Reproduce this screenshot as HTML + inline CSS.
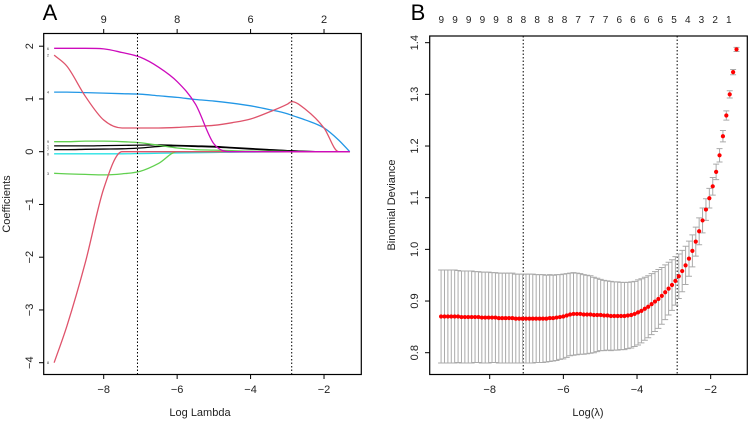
<!DOCTYPE html>
<html><head><meta charset="utf-8"><style>
body{margin:0;background:#fff}svg{display:block;font-family:"Liberation Sans",sans-serif}
</style></head><body>
<svg id="c" width="749" height="421"></svg>
<script>
// ---------- Panel A data ----------
const pathXs=[-9.35,-9,-8.5,-8,-7.5,-7,-6.5,-6,-5.5,-5,-4.5,-4,-3.5,-3,-2.88,-2.5,-2,-1.6,-1.3];
const magenta=[1.96,1.96,1.96,1.95,1.88,1.79,1.6,1.33,0.9,0.15,0,0,0,0,0,0,0,0,0];
const red2=[1.83,1.62,1.05,0.6,0.45,0.45,0.45,0.46,0.48,0.5,0.55,0.62,0.75,0.9,0.95,0.8,0.45,0,0];
const blue=[1.13,1.13,1.12,1.11,1.10,1.09,1.06,1.03,0.99,0.96,0.92,0.87,0.8,0.72,0.69,0.6,0.45,0.22,0];
const red8=[-4,-3.3,-2.1,-0.7,0,0,0,0,0,0,0,0,0,0,0,0,0,0,0];
const green9=[0.19,0.19,0.2,0.2,0.19,0.17,0.12,0.07,0.04,0.03,0.02,0.01,0.01,0.005,0,0,0,0,0];
const green3=[-0.41,-0.42,-0.43,-0.44,-0.42,-0.37,-0.22,0,0,0,0,0,0,0,0,0,0,0,0];
const black1=[0.11,0.11,0.11,0.115,0.12,0.125,0.13,0.12,0.11,0.1,0.08,0.06,0.04,0.02,0.015,0.005,0,0,0];
const black2=[0.04,0.04,0.045,0.05,0.055,0.07,0.1,0.11,0.1,0.09,0.07,0.05,0.035,0.02,0.015,0.005,0,0,0];
const cyan=[-0.04,-0.04,-0.04,-0.04,-0.04,-0.035,-0.03,-0.025,-0.02,-0.015,-0.01,-0.008,-0.005,-0.002,0,0,0,0,0];
const topA=["9","8","6","2"], topAx=[-8,-6,-4,-2];
// ---------- Panel B data ----------
const devMean=[0.870,0.870,0.870,0.870,0.870,0.870,0.869,0.869,0.869,0.869,0.869,0.869,0.868,0.868,0.868,0.868,0.868,0.867,0.867,0.867,0.867,0.867,0.866,0.866,0.866,0.866,
0.866,0.866,0.866,0.866,0.866,0.866,0.867,0.867,0.868,0.869,0.870,0.872,
0.874,0.875,0.875,0.875,0.874,0.874,0.874,0.873,0.873,0.873,0.872,
0.872,0.871,0.871,0.871,0.871,0.871,0.872,0.873,0.875,
0.878,0.881,0.885,0.889,0.894,0.899,0.904,0.910,0.917,0.924,0.931,0.939,
0.948,0.958,0.969,0.982,0.997,1.015,1.035,1.056,1.077,1.099,1.122,1.150,1.182,1.219,1.259,1.300,1.343,1.387];
const devSE=[0.090,0.090,0.090,0.090,0.090,0.089,0.089,0.089,0.089,0.089,0.088,0.088,0.088,0.088,0.088,0.087,0.087,0.087,0.087,0.087,0.087,0.087,0.086,0.086,0.086,0.086,
0.086,0.086,0.085,0.085,0.085,0.084,0.084,0.083,0.083,0.082,0.082,0.081,
0.080,0.080,0.079,0.078,0.077,0.076,0.075,0.073,0.071,0.069,0.068,
0.067,0.067,0.066,0.066,0.065,0.065,0.064,0.064,0.063,
0.063,0.062,0.061,0.060,0.059,0.058,0.057,0.055,0.053,0.051,0.049,0.047,
0.043,0.040,0.037,0.034,0.031,0.028,0.026,0.024,0.021,0.019,0.017,0.015,0.013,0.011,0.009,0.007,0.005,0.004];
const logLamStart=-9.32, logLamStep=0.0922;
const topB=["9","9","9","9","9","8","8","8","8","8","7","7","7","6","6","6","6","5","4","3","2","1"];
const cutsA=[-7.08,-2.88], cutsB=[-7.09,-2.91];

const NS="http://www.w3.org/2000/svg", svg=document.getElementById('c');
function mk(t,a,p){const e=document.createElementNS(NS,t);for(const k in a)e.setAttribute(k,a[k]);(p||svg).appendChild(e);return e;}
function txt(s,x,y,a,p){const e=mk('text',Object.assign({x:x,y:y,'font-size':11,fill:'#222','text-anchor':'middle'},a),p);e.textContent=s;return e;}

// Panel A scales
const axA=v=>103.7+(v+8)*36.72, ayA=v=>151.7-v*52.75;
const gA=mk('g',{});
let t=txt('A',50,20,{'font-size':22,'text-anchor':'middle',fill:'#000'},gA);
// monotone cubic (Fritsch-Carlson) to avoid overshoot
function curve(xs,ys,fx,fy){const P=xs.map((x,i)=>[fx(x),fy(ys[i])]);const n=P.length;const d=[],m=[];
for(let i=0;i<n-1;i++)d.push((P[i+1][1]-P[i][1])/(P[i+1][0]-P[i][0]));
m[0]=d[0];m[n-1]=d[n-2];for(let i=1;i<n-1;i++){m[i]=(d[i-1]*d[i]<=0)?0:(d[i-1]+d[i])/2;}
for(let i=0;i<n-1;i++){if(d[i]===0){m[i]=0;m[i+1]=0;continue;}const a=m[i]/d[i],b=m[i+1]/d[i],s=a*a+b*b;if(s>9){const tt=3/Math.sqrt(s);m[i]=tt*a*d[i];m[i+1]=tt*b*d[i];}}
let p='M'+P[0][0]+','+P[0][1];
for(let i=0;i<n-1;i++){const h=(P[i+1][0]-P[i][0])/3;p+=' C'+(P[i][0]+h)+','+(P[i][1]+m[i]*h)+' '+(P[i+1][0]-h)+','+(P[i+1][1]-m[i+1]*h)+' '+P[i+1][0]+','+P[i+1][1];}
return p;}
const series=[[cyan,'#28E2E5','coef-path-cyan','0'],[black2,'#000','coef-path-black-2','7'],[black1,'#000','coef-path-black-1','1'],[green3,'#61D04F','coef-path-green-3','3'],[green9,'#61D04F','coef-path-green-9','9'],[red8,'#DF536B','coef-path-red-8','8'],[blue,'#2297E6','coef-path-blue','4'],[red2,'#DF536B','coef-path-red-2','2'],[magenta,'#CD0BBC','coef-path-magenta','6']];
series.forEach(s=>{const p=mk('path',{d:curve(pathXs,s[0],axA,ayA),fill:'none',stroke:s[1],'stroke-width':1.3},gA);

const l=txt(s[3],48,ayA(s[0][0])+1.5,{'font-size':4,fill:'#444'},gA);});
cutsA.forEach(c=>{const l=mk('line',{x1:axA(c),x2:axA(c),y1:33.5,y2:374.5,stroke:'#000','stroke-dasharray':'1.5,2','stroke-width':1},gA);});
let b=mk('rect',{x:43.7,y:33.5,width:317.6,height:341,fill:'none',stroke:'#000','stroke-width':1.2},gA);
[-8,-6,-4,-2].forEach(v=>{mk('line',{x1:axA(v),x2:axA(v),y1:374.5,y2:379,stroke:'#000'},gA);const e=txt('−'+(-v),axA(v),393,{},gA);});
topA.forEach((s,i)=>{mk('line',{x1:axA(topAx[i]),x2:axA(topAx[i]),y1:33.5,y2:29,stroke:'#000'},gA);const e=txt(s,axA(topAx[i]),23,{},gA);});
[2,1,0,-1,-2,-3,-4].forEach(v=>{const y=ayA(v);mk('line',{x1:43.7,x2:39,y1:y,y2:y,stroke:'#000'},gA);const e=txt(v<0?'−'+(-v):''+v,0,0,{transform:'translate(33,'+y+') rotate(-90)'},gA);});
t=txt('Log Lambda',200,416,{},gA);
t=txt('Coefficients',0,0,{transform:'translate(10,204) rotate(-90)'},gA);

// Panel B
const axB=v=>489.7+(v+8)*36.83, ayB=v=>352.7-(v-0.8)*516.7;
const gB=mk('g',{});
t=txt('B',418,20,{'font-size':22,fill:'#000'},gB);
cutsB.forEach(c=>{const l=mk('line',{x1:axB(c),x2:axB(c),y1:36,y2:374.5,stroke:'#000','stroke-dasharray':'1.5,2','stroke-width':1},gB);});
devMean.forEach((m,i)=>{const x=axB(logLamStart+i*logLamStep),yu=ayB(m+devSE[i]),yl=ayB(m-devSE[i]);
const e=mk('path',{d:'M'+x+','+yu+'V'+yl+'M'+(x-3)+','+yu+'h6M'+(x-3)+','+yl+'h6',stroke:'#aaa','stroke-width':1,fill:'none'},gB);
});
devMean.forEach((m,i)=>{const d=mk('circle',{cx:axB(logLamStart+i*logLamStep),cy:ayB(m),r:2.1,fill:'#f00'},gB);
});
b=mk('rect',{x:429.7,y:36,width:317.6,height:338.5,fill:'none',stroke:'#000','stroke-width':1.2},gB);
[-8,-6,-4,-2].forEach(v=>{mk('line',{x1:axB(v),x2:axB(v),y1:374.5,y2:379,stroke:'#000'},gB);const e=txt('−'+(-v),axB(v),393,{},gB);});
[0.8,0.9,1.0,1.1,1.2,1.3,1.4].forEach(v=>{const y=ayB(v);mk('line',{x1:429.7,x2:425,y1:y,y2:y,stroke:'#000'},gB);const e=txt(v.toFixed(1),0,0,{transform:'translate(418,'+y+') rotate(-90)'},gB);});
topB.forEach((s,i)=>{const e=txt(s,441.3+i*13.69,23,{'font-size':10},gB);});
t=txt('Log(λ)',588,416,{},gB);
t=txt('Binomial Deviance',0,0,{transform:'translate(395,205) rotate(-90)'},gB);
</script>
</body></html>
